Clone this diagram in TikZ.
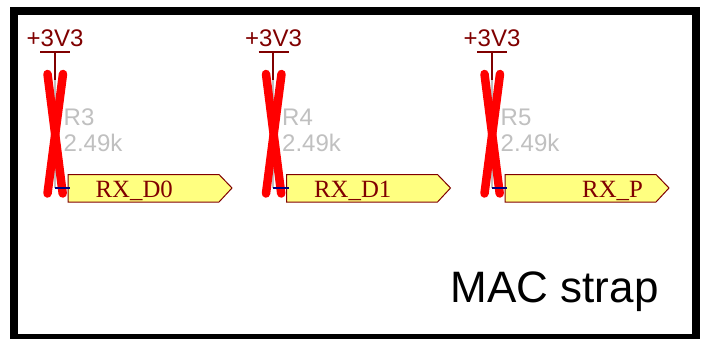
\documentclass[tikz,border=0pt]{standalone}
\usepackage{fontspec}
\setmainfont{Liberation Serif}
\setsansfont{Liberation Sans}
\definecolor{netred}{HTML}{800000}
\definecolor{portfill}{HTML}{FFFF80}
\definecolor{refgray}{HTML}{C0C0C0}
\definecolor{pinblue}{HTML}{000080}
\tikzset{
  x=1pt,y=-1pt,
  lbl/.style={inner sep=0pt,anchor=base west},
  pwr/.style={lbl,text=netred,font=\sffamily\fontsize{24}{26}\selectfont},
  refd/.style={lbl,text=refgray,font=\sffamily\fontsize{24}{26}\selectfont},
  portname/.style={lbl,text=netred,font=\rmfamily\fontsize{24.8}{26}\selectfont},
  portshape/.style={draw=netred,fill=portfill,line width=1pt,line join=miter},
  wire/.style={draw=netred,line width=2pt},
  body/.style={draw=refgray,line width=2pt},
  pin/.style={draw=pinblue,line width=2pt},
  cross/.style={draw=red,line width=8.5pt,line cap=round},
}
\newcommand{\strapunit}[5]{%
  \begin{scope}[shift={(#1,0)}]
    \coordinate (#5a) at (54.5,52);
    \coordinate (#5b) at (54.5,80);
    \coordinate (#5c) at (54.5,188);
    \coordinate (#5d) at (70,188);
    \coordinate (#5l) at (40,52);
    \coordinate (#5r) at (70,52);
    \draw[body] (#5b) -- (#5c);
    \node[pwr] (#5pwr) at (26.5,47) {+3V3};
    \node[refd] (#5ref) at (63.5,126) {#2};
    \node[refd] (#5val) at (63.5,152) {2.49k};
    \draw[wire] (#5l) -- (#5r);
    \draw[wire] (#5a) -- (#5b);
    \coordinate (#5x1) at (47.5,74);
    \coordinate (#5x2) at (62.7,193.5);
    \coordinate (#5x3) at (63,74);
    \coordinate (#5x4) at (47.5,193.5);
    \draw[cross] (#5x1) -- (#5x2);
    \draw[cross] (#5x3) -- (#5x4);
    \draw[portshape] (68,174.5) -- (219,174.5) -- (232,188) -- (219,202) -- (68,202) -- cycle;
    \draw[pin] (#5c) -- (#5d);
    \node[portname] (#5port) at (#3,197.5) {#4};
  \end{scope}}
\begin{document}
\begin{tikzpicture}
\useasboundingbox (0,0) rectangle (703,339);
\fill[white] (0,0) rectangle (703,339);
\begin{scope}
  \clip (0,0) rectangle (703,339);
  \draw[black,line width=8pt,line join=miter] (14,11) rectangle (696,338);
\end{scope}
\strapunit{0}{R3}{95.5}{RX\_D0}{u}
\strapunit{218.5}{R4}{95.5}{RX\_D1}{v}
\strapunit{437}{R5}{145}{RX\_P}{w}
\node[lbl,font=\sffamily\fontsize{44}{48}\selectfont] (title) at (450.5,302) {MAC strap};
\end{tikzpicture}
\end{document}
